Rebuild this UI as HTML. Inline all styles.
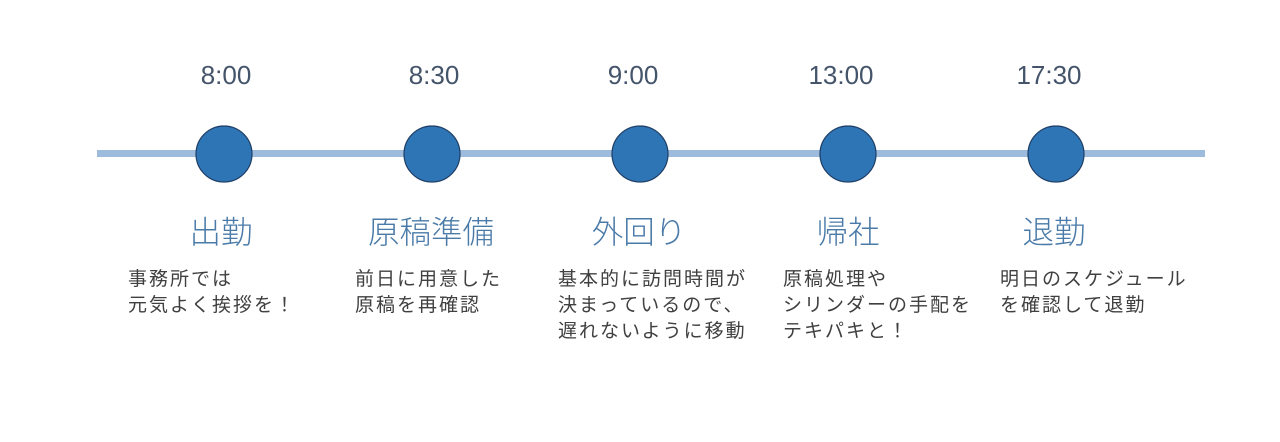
<!DOCTYPE html>
<html><head><meta charset="utf-8"><style>
html,body{margin:0;padding:0;background:#fff;}
body{width:1280px;height:442px;position:relative;overflow:hidden;font-family:"Liberation Sans","Noto Sans CJK JP",sans-serif;}
.t{position:absolute;top:58px;width:160px;text-align:center;font-size:26px;color:#44546a;line-height:34px;}
.h{position:absolute;top:211px;width:200px;text-align:center;font-size:31.5px;color:#4a7aa8;line-height:42px;font-weight:300;}
.d{position:absolute;top:267px;font-size:19px;color:#404040;line-height:26px;white-space:nowrap;letter-spacing:2px;}
</style></head><body>
<svg width="1280" height="442" style="position:absolute;left:0;top:0">
<rect x="97" y="150" width="1108" height="7" fill="#9dbbdc"/>
<g fill="#2e75b6" stroke="#1f3f66" stroke-width="1.2">
<circle cx="224" cy="154" r="28"/>
<circle cx="432" cy="154" r="28"/>
<circle cx="640" cy="154" r="28"/>
<circle cx="848" cy="154" r="28"/>
<circle cx="1056" cy="154" r="28"/>
</g></svg>
<div class="t" style="left:146px">8:00</div>
<div class="t" style="left:354px">8:30</div>
<div class="t" style="left:553px">9:00</div>
<div class="t" style="left:761px">13:00</div>
<div class="t" style="left:969px">17:30</div>
<div class="h" style="left:121px">出勤</div>
<div class="h" style="left:331px">原稿準備</div>
<div class="h" style="left:539px">外回り</div>
<div class="h" style="left:748px">帰社</div>
<div class="h" style="left:954px">退勤</div>
<div class="d" style="left:128px">事務所では<br>元気よく挨拶を！</div>
<div class="d" style="left:355px">前日に用意した<br>原稿を再確認</div>
<div class="d" style="left:558px">基本的に訪問時間が<br>決まっているので、<br>遅れないように移動</div>
<div class="d" style="left:783px">原稿処理や<br>シリンダーの手配を<br>テキパキと！</div>
<div class="d" style="left:1000px">明日のスケジュール<br>を確認して退勤</div>
</body></html>
